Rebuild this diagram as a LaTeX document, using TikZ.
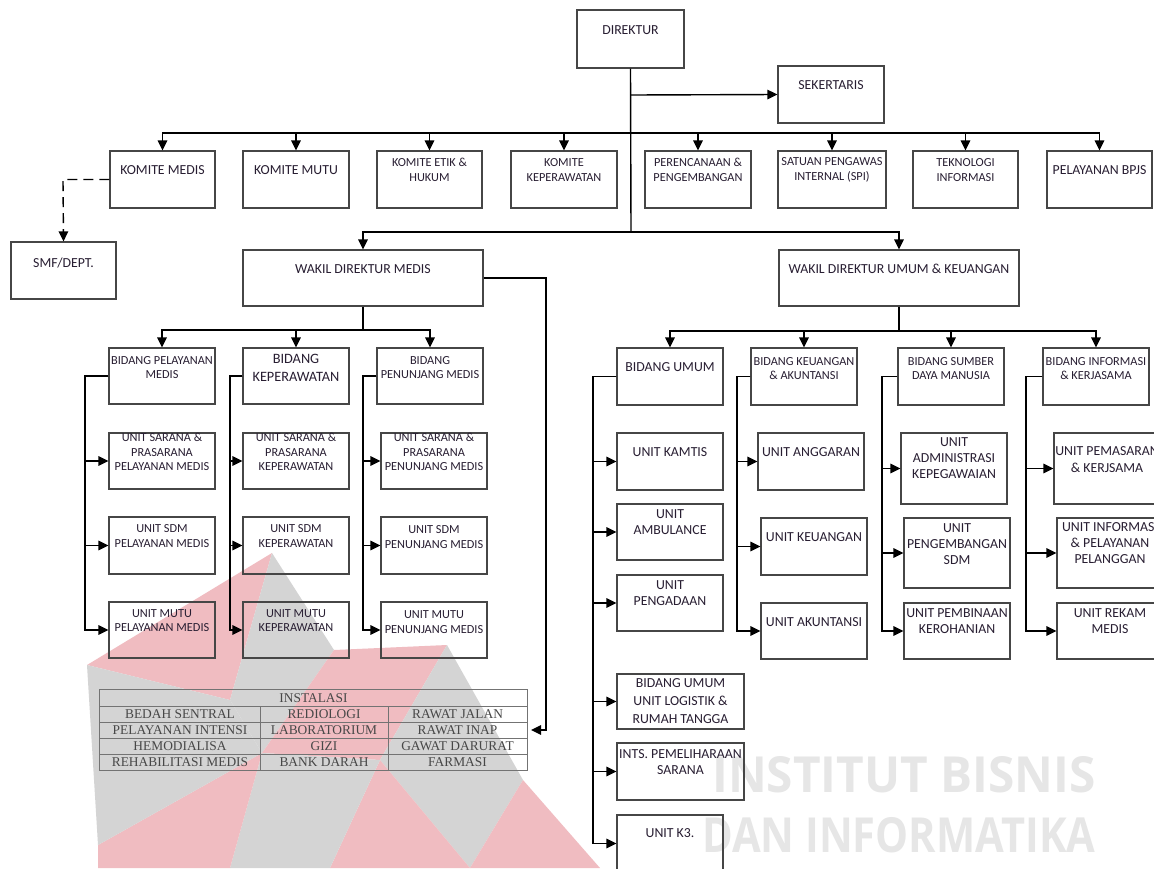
\documentclass[tikz,border=0pt]{standalone}
\usepackage{fontspec}
\usepackage{graphicx}
\setmainfont{Carlito}
\newfontfamily\tabfont{Liberation Serif}
\newfontfamily\wmfont{Open Sans}
\usetikzlibrary{arrows.meta}
\definecolor{pinkwm}{RGB}{240,188,193}
\definecolor{graywm}{RGB}{212,212,212}
\definecolor{wmtext}{RGB}{230,230,230}
\definecolor{boxline}{RGB}{70,70,70}
\definecolor{txt}{RGB}{40,30,50}
\newcommand\ftsmall{\fontsize{12.3}{14.6}\selectfont}
\newcommand\ftlarge{\fontsize{13.8}{16.3}\selectfont}
\newcommand\ftwide{\fontsize{13.8}{18}\selectfont}
\newcommand\bx[8]{%
  \node[box, minimum width={(#4-#2)*1pt}, minimum height={(#5-#3)*1pt}] (#1) at ({(#2+#4)/2},{(#3+#5)/2}) {};
  \node[lbl, font=#7] (#1-t) at ({(#2+#4)/2},#6) {#8};}
\tikzset{
  box/.style={draw=boxline, line width=1.2pt, inner sep=0pt, rectangle},
  lbl/.style={inner sep=0pt, align=center, text=txt},
  conn/.style={line width=1.4pt, black},
  arr/.style={conn, -{Triangle[length=10pt,width=9.5pt]}},
  darr/.style={arr, dash pattern=on 10pt off 6pt},
  tline/.style={draw=black!55, line width=0.9pt},
  tcell/.style={inner sep=0pt, text=black!72, font=\tabfont\fontsize{13.4}{14}\selectfont},
}
\begin{document}
\begin{tikzpicture}[x=1pt,y=-1pt]
\useasboundingbox (0,0) rectangle (1154,868);
\fill[white] (0,0) rectangle (1154,868);
% watermark logo
\fill[pinkwm] (87,665) -- (272,553) -- (230,700) -- cycle;
\fill[graywm] (272,553) -- (334,650) -- (262,753) -- (230,700) -- cycle;
\fill[pinkwm] (334,650) -- (447,645) -- (380,760) -- (262,753) -- cycle;
\fill[graywm] (447,645) -- (523,780) -- (470,868) -- (380,760) -- cycle;
\fill[pinkwm] (380,760) -- (470,868) -- (330,868) -- cycle;
\fill[pinkwm] (523,780) -- (600,868) -- (470,868) -- cycle;
\fill[graywm] (262,753) -- (380,760) -- (330,868) -- (230,868) -- cycle;
\fill[pinkwm] (98,845) -- (262,753) -- (230,868) -- (98,868) -- cycle;
\fill[graywm] (87,665) -- (230,700) -- (262,753) -- (98,845) -- cycle;
\node[anchor=west, inner sep=0pt, text=wmtext] (wmA) at (712,775) {\resizebox{383pt}{36pt}{\wmfont\bfseries INSTITUT BISNIS}};
\node[anchor=west, inner sep=0pt, text=wmtext] (wmB) at (702,835) {\resizebox{393pt}{35pt}{\wmfont\bfseries DAN INFORMATIKA}};
% top level
\bx{dir}{577}{10}{684}{68}{30}{\ftlarge}{DIREKTUR}
\bx{sek}{778}{66}{884}{123}{85}{\ftlarge}{SEKERTARIS}
\bx{km}{110}{151}{215}{208}{170}{\ftlarge}{KOMITE MEDIS}
\bx{kmu}{243}{151}{349}{208}{170}{\ftlarge}{KOMITE MUTU}
\bx{ke}{377}{151}{482}{208}{170}{\ftsmall}{KOMITE ETIK \&\\HUKUM}
\bx{kk}{511}{151}{617}{208}{170}{\ftsmall}{KOMITE\\KEPERAWATAN}
\bx{pp}{645}{151}{751}{208}{170}{\ftsmall}{PERENCANAAN \&\\PENGEMBANGAN}
\bx{spi}{778}{151}{886}{208}{170}{\ftsmall}{SATUAN PENGAWAS\\INTERNAL (SPI)}
\bx{ti}{913}{151}{1018}{208}{170}{\ftsmall}{TEKNOLOGI\\INFORMASI}
\bx{bpjs}{1047}{151}{1152}{208}{170}{\ftlarge}{PELAYANAN BPJS}
\bx{smf}{11}{242}{116}{299}{263}{\ftlarge}{SMF/DEPT.}
\bx{wm}{243}{250}{483}{306}{269}{\ftlarge}{WAKIL DIREKTUR MEDIS}
\bx{wu}{779}{250}{1019}{306}{269}{\ftlarge}{WAKIL DIREKTUR UMUM \& KEUANGAN}
% medis bidang
\bx{bpm}{109}{348}{215}{404}{367.5}{\ftsmall}{BIDANG PELAYANAN\\MEDIS}
\bx{bkp}{243}{348}{349}{404}{367.5}{\fontsize{14.3}{18}\selectfont}{BIDANG\\KEPERAWATAN}
\bx{bpn}{377}{348}{483}{404}{367.5}{\ftsmall}{BIDANG\\PENUNJANG MEDIS}
\bx{ua1}{109}{433}{215}{489}{452}{\ftsmall}{UNIT SARANA \&\\PRASARANA\\PELAYANAN MEDIS}
\bx{ua2}{109}{517}{215}{574}{536}{\ftsmall}{UNIT SDM\\PELAYANAN MEDIS}
\bx{ua3}{109}{602}{215}{658}{620.5}{\ftsmall}{UNIT MUTU\\PELAYANAN MEDIS}
\bx{ub1}{243}{433}{349}{489}{452}{\ftsmall}{UNIT SARANA \&\\PRASARANA\\KEPERAWATAN}
\bx{ub2}{243}{517}{349}{574}{536}{\ftsmall}{UNIT SDM\\KEPERAWATAN}
\bx{ub3}{243}{602}{349}{658}{620.5}{\ftsmall}{UNIT MUTU\\KEPERAWATAN}
\bx{uc1}{381}{433}{487}{489}{452}{\ftsmall}{UNIT SARANA \&\\PRASARANA\\PENUNJANG MEDIS}
\bx{uc2}{381}{517}{487}{574}{537}{\ftsmall}{UNIT SDM\\PENUNJANG MEDIS}
\bx{uc3}{381}{602}{487}{658}{622}{\ftsmall}{UNIT MUTU\\PENUNJANG MEDIS}
% umum bidang
\bx{bu}{617}{348}{723}{405}{367}{\ftlarge}{BIDANG UMUM}
\bx{bke}{751}{348}{857}{405}{368.5}{\ftsmall}{BIDANG KEUANGAN\\\& AKUNTANSI}
\bx{bsd}{898}{348}{1004}{405}{368.5}{\ftsmall}{BIDANG SUMBER\\DAYA MANUSIA}
\bx{bin}{1043}{348}{1149}{405}{368.5}{\ftsmall}{BIDANG INFORMASI\\\& KERJASAMA}
\bx{uu1}{617}{433}{723}{490}{452}{\ftlarge}{UNIT KAMTIS}
\bx{uu2}{617}{504}{723}{560}{522}{\ftlarge}{UNIT\\AMBULANCE}
\bx{uu3}{617}{575}{723}{631}{593}{\ftlarge}{UNIT\\PENGADAAN}
\bx{uu4}{617}{674}{744}{729}{701}{\ftwide}{BIDANG UMUM\\UNIT LOGISTIK \&\\RUMAH TANGGA}
\bx{uu5}{617}{743}{744}{800}{762}{\ftlarge}{INTS. PEMELIHARAAN\\SARANA}
\bx{uu6}{617}{815}{723}{872}{833}{\ftlarge}{UNIT K3.}
\bx{uk1}{758}{433}{864}{490}{452}{\ftlarge}{UNIT ANGGARAN}
\bx{uk2}{761}{518}{867}{575}{537}{\ftlarge}{UNIT KEUANGAN}
\bx{uk3}{761}{603}{867}{659}{622}{\ftlarge}{UNIT AKUNTANSI}
\bx{us1}{901}{433}{1007}{504}{458}{\ftlarge}{UNIT\\ADMINISTRASI\\KEPEGAWAIAN}
\bx{us2}{904}{518}{1010}{588}{544}{\ftlarge}{UNIT\\PENGEMBANGAN\\SDM}
\bx{us3}{904}{603}{1010}{659}{621}{\ftlarge}{UNIT PEMBINAAN\\KEROHANIAN}
\bx{ui1}{1054}{433}{1160}{504}{459.5}{\ftlarge}{UNIT PEMASARAN\\\& KERJSAMA}
\bx{ui2}{1057}{518}{1163}{588}{543}{\ftlarge}{UNIT INFORMASI\\\& PELAYANAN\\PELANGGAN}
\bx{ui3}{1057}{603}{1163}{659}{621}{\ftlarge}{UNIT REKAM\\MEDIS}
% table INSTALASI
\node[inner sep=0pt, minimum width=427pt, minimum height=80pt] (inst) at (313.5,730) {};
\draw[tline] (inst.north west) rectangle (inst.south east);
\foreach \yy in {706,722,738,754} \draw[tline] (100,\yy) -- (527,\yy);
\foreach \xx in {260,388} \draw[tline] (\xx,706) -- (\xx,770);
\node[tcell] (t0) at (313.5,698) {INSTALASI};
\node[tcell] (t11) at (180,714) {BEDAH SENTRAL};
\node[tcell] (t12) at (324,714) {REDIOLOGI};
\node[tcell] (t13) at (457.5,714) {RAWAT JALAN};
\node[tcell] (t21) at (180,730) {PELAYANAN INTENSI};
\node[tcell] (t22) at (324,730) {LABORATORIUM};
\node[tcell] (t23) at (457.5,730) {RAWAT INAP};
\node[tcell] (t31) at (180,746) {HEMODIALISA};
\node[tcell] (t32) at (324,746) {GIZI};
\node[tcell] (t33) at (457.5,746) {GAWAT DARURAT};
\node[tcell] (t41) at (180,762) {REHABILITASI MEDIS};
\node[tcell] (t42) at (324,762) {BANK DARAH};
\node[tcell] (t43) at (457.5,762) {FARMASI};
% connectors
\coordinate (bus1) at (631,133);
\coordinate (bus2) at (631,232);
\coordinate (sekj) at (631,95);
\draw[conn] (dir.south) -- (bus2);
\draw[arr] (sekj) -- (sek.west);
\foreach \n in {km,kmu,ke,kk,pp,spi,ti,bpjs} \draw[arr] (bus1) -| (\n.north);
\draw[arr] (bus2) -| (wm.north);
\draw[arr] (bus2) -| (wu.north);
\coordinate (smfj) at (63,179.5);
\draw[darr] (km.west) -- (smfj) -- (smf.north);
% medis
\coordinate (mbus) at (363,330);
\draw[conn] (wm.south) -- (mbus);
\foreach \n in {bpm,bkp,bpn} \draw[arr] (mbus) -| (\n.north);
\coordinate (ca) at (85,376);
\coordinate (cb) at (230,376);
\coordinate (cc) at (363,376);
\foreach \u in {ua1,ua2,ua3} \draw[arr] (bpm.west) -- (ca) |- (\u.west);
\foreach \u in {ub1,ub2,ub3} \draw[arr] (bkp.west) -- (cb) |- (\u.west);
\foreach \u in {uc1,uc2,uc3} \draw[arr] (bpn.west) -- (cc) |- (\u.west);
\coordinate (instj) at (546,278);
\coordinate (instr) at (531,730);
\draw[arr] (wm.east |- instj) -- (instj) |- (instr);
% umum
\coordinate (ubus) at (899,331);
\draw[conn] (wu.south) -- (ubus);
\foreach \n in {bu,bke,bsd,bin} \draw[arr] (ubus) -| (\n.north);
\coordinate (cu) at (593,376.5);
\coordinate (ck) at (737,376.5);
\coordinate (cs) at (882,376.5);
\coordinate (ci) at (1026,376.5);
\foreach \u in {uu1,uu2,uu3,uu4,uu5,uu6} \draw[arr] (bu.west) -- (cu) |- (\u.west);
\foreach \u in {uk1,uk2,uk3} \draw[arr] (bke.west) -- (ck) |- (\u.west);
\foreach \u in {us1,us2,us3} \draw[arr] (bsd.west) -- (cs) |- (\u.west);
\foreach \u in {ui1,ui2,ui3} \draw[arr] (bin.west) -- (ci) |- (\u.west);
\end{tikzpicture}
\end{document}
